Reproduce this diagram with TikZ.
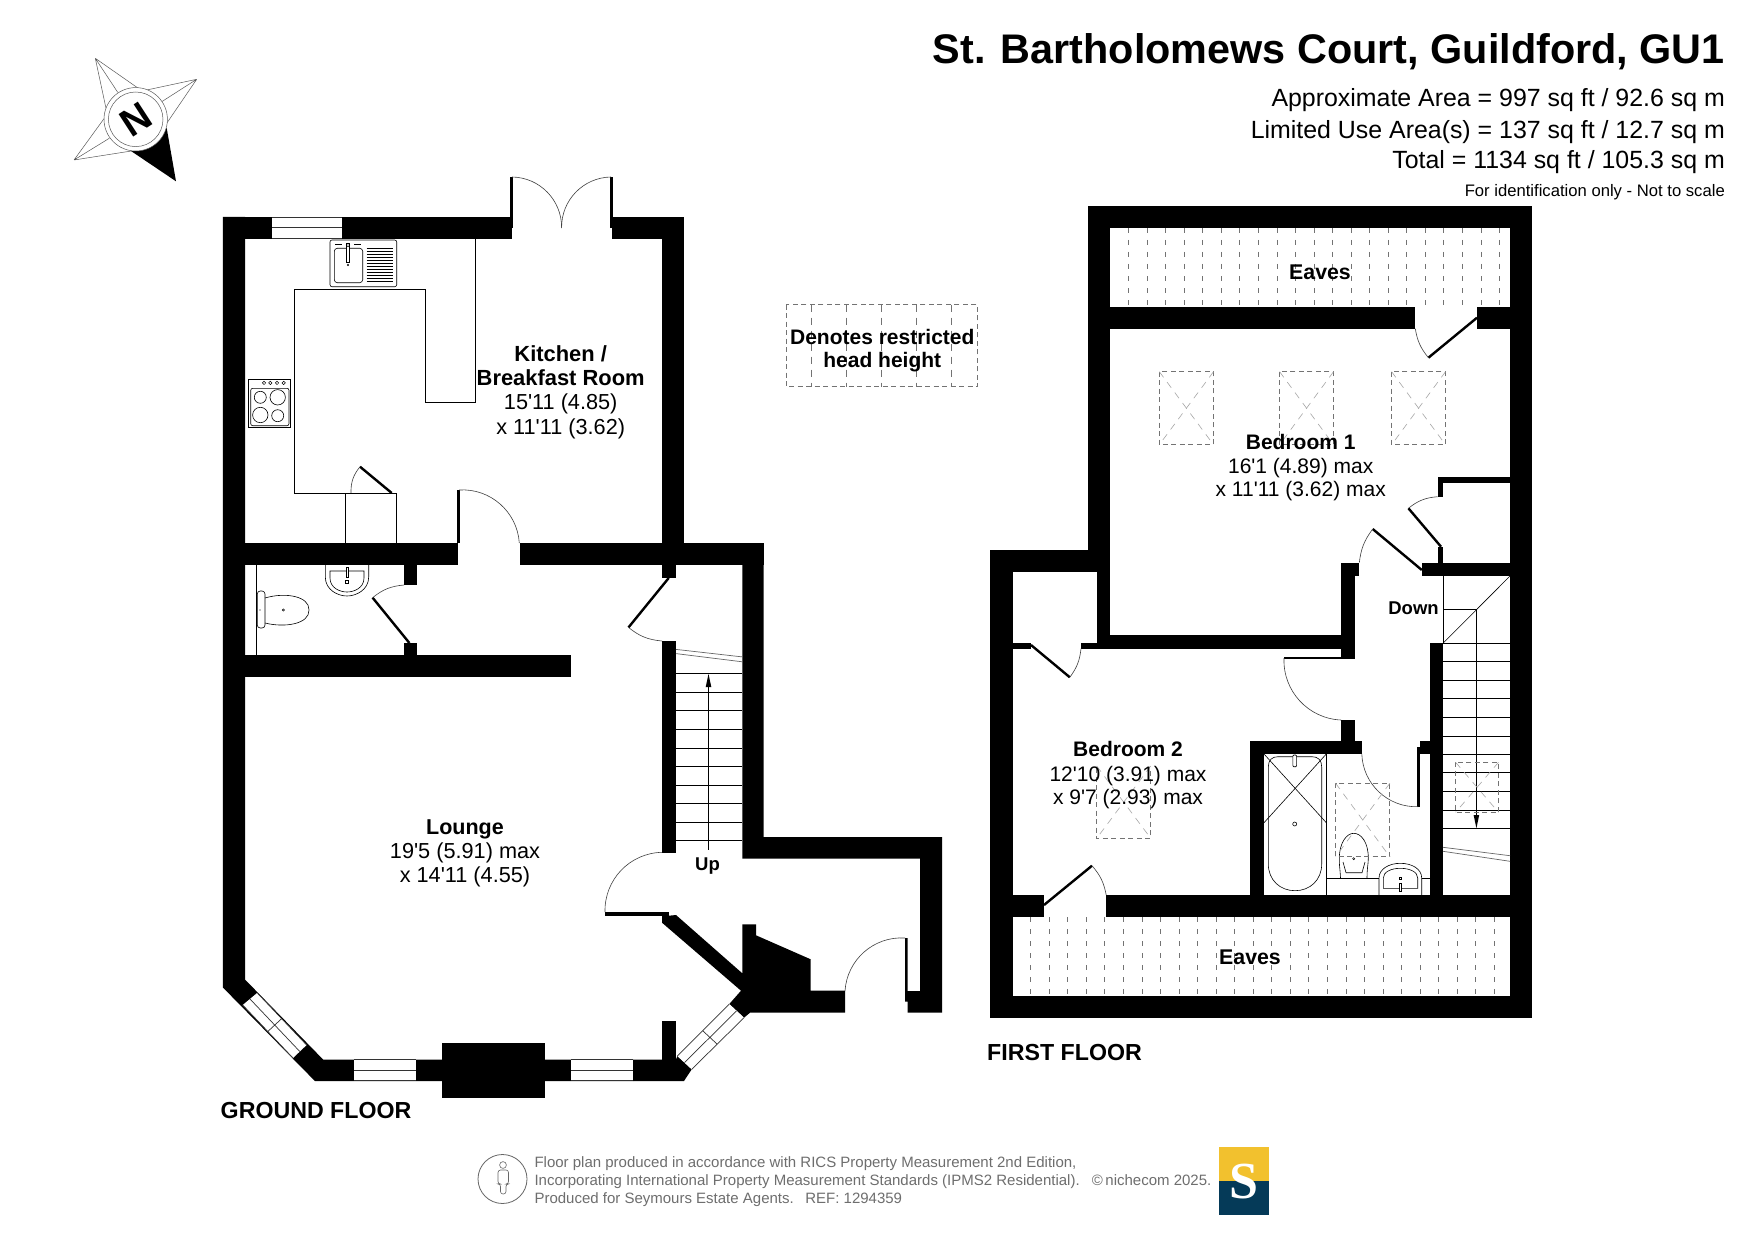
\documentclass[tikz,border=0pt]{standalone}
\usepackage{fontspec}
\setmainfont{Liberation Sans}
\newfontfamily\plainsans{Liberation Sans}
\definecolor{logoy}{HTML}{F2C12E}
\definecolor{logob}{HTML}{053A58}
\definecolor{foot}{HTML}{6E6E6E}
\newfontfamily\logofont{Liberation Serif}
\tikzset{
 wall/.style={fill=black,draw=none},
 leaf/.style={draw=black,line width=2.4pt},
 swing/.style={draw=black!75,line width=0.6pt},
 thin line/.style={draw=black,line width=0.8pt},
 winpane/.style={fill=white,draw=none},
 winline/.style={draw=black!80,line width=0.7pt},
 breakline/.style={draw=black!60,line width=0.7pt},
 eavesdash/.style={draw=black!55,line width=0.6pt,dash pattern=on 5pt off 7pt},
 skybox/.style={draw=black!55,line width=0.7pt,dash pattern=on 5pt off 3.5pt},
 skydiag/.style={draw=black!35,line width=0.6pt,dash pattern=on 7pt off 6pt},
 fixture/.style={draw=black,line width=0.6pt},
 room/.style={anchor=base,inner sep=0pt,yshift=-7.7pt,font=\plainsans\fontsize{21.7}{24}\selectfont},
 roomb/.style={room,font=\plainsans\fontsize{21.7}{24}\selectfont\bfseries},
 uproom/.style={room,font=\plainsans\fontsize{21}{24}\selectfont},
 uproomb/.style={room,font=\plainsans\fontsize{21}{24}\selectfont\bfseries},
 small/.style={anchor=base,inner sep=0pt,yshift=-6.5pt,font=\fontsize{18.5}{22}\selectfont\bfseries},
 floor/.style={anchor=base west,inner sep=0pt,yshift=-9.5pt,font=\fontsize{23.2}{26}\selectfont\bfseries},
 area/.style={anchor=base east,inner sep=0pt,yshift=-8.5pt,font=\fontsize{24.9}{28}\selectfont},
 foottext/.style={anchor=base west,inner sep=0pt,yshift=-6pt,text=foot,font=\fontsize{15}{18}\selectfont},
 star/.style={draw=black!65,line width=0.5pt},
}
\newcommand{\skylight}[4]{%
 \draw[skybox] (#1,#2) rectangle (#3,#4);
 \draw[skydiag] (#1,#2) -- (#3,#4);
 \draw[skydiag] (#3,#2) -- (#1,#4);}
\begin{document}
\begin{tikzpicture}[x=1pt,y=-1pt]
\useasboundingbox (0,0) rectangle (1755,1241);
\fill[white] (0,0) rectangle (1755,1241);
% --------------- compass
\fill[black] (176,181.3) -- (166.7,128) -- (131,151) -- cycle;
\draw[star] (95.3,58.3) -- (138.3,88.3) (95.3,58.3) -- (106,108.3) (95.3,58.3) -- (117.7,92.3);
\draw[star] (196.7,79.3) -- (146.7,90) (196.7,79.3) -- (166.7,123.3) (196.7,79.3) -- (161.7,101.7);
\draw[star] (74,160) -- (105,117.3) (74,160) -- (133.3,150.7) (74,160) -- (109.3,138.3);
\draw[star,fill=white] (135.7,119.3) circle (31.7);
\draw[star] (135.7,119.3) circle (27.3);
\node[inner sep=0pt,rotate=33,font=\fontsize{39}{39}\selectfont\bfseries] (northn) at (135.7,119.3) {N};
% --------------- ground floor walls
\fill[wall] (222.9,217) rectangle (512,238.7);
\fill[wall] (510,177) rectangle (513,228);
\fill[wall] (610,177) rectangle (613,228);
\fill[wall] (612,217) rectangle (683.7,238.7);
\fill[wall] (662,217) rectangle (683.7,565);
\fill[wall] (222.9,217) -- (245,217) -- (245,979.5) -- (323.1,1059.5) -- (633,1059.5) -- (633,1081) -- (314.9,1081) -- (222.9,987.5) -- cycle;
% middle walls
\fill[wall] (222.9,543) rectangle (458,564.6);
\fill[wall] (456.5,490) rectangle (459.5,543);
\fill[wall] (520,543) rectangle (763.7,564.6);
\fill[wall] (662,543) rectangle (676,578);
\fill[wall] (403.6,564) rectangle (416.7,585);
\fill[wall] (403.6,642.7) rectangle (416.7,656);
\fill[wall] (222.9,654.6) rectangle (570.8,676.8);
% stair walls
\fill[wall] (662,641) rectangle (676,852.5);
\fill[wall] (742.3,543) -- (763.7,543) -- (763.7,837) -- (942,837) -- (942,1012.7) -- (907.7,1012.7) -- (907.7,1001.7) -- (905,1001.7) -- (905,938) -- (907.7,938) -- (907.7,991) -- (920,991) -- (920,858.7) -- (742.3,858.7) -- cycle;
% entrance block and diagonal wall
\fill[wall] (662,916) -- (669,915.7) -- (676,915) -- (742.3,973.3) -- (742.3,924.3) -- (756,924.3) -- (756,935.3) -- (810.7,959.3) -- (810.7,990.7) -- (845,990.7) -- (845,1012.7) -- (750,1012.7) -- (744,1017.7) -- (729.3,1004) -- (741,990.7) -- (662,922.7) -- cycle;
\fill[wall] (605,912.3) rectangle (669,915.7);
% lower right corner
\fill[wall] (662,1020.7) rectangle (676,1060);
\fill[wall] (633,1059.5) -- (676,1059.5) -- (677.3,1056) -- (691.7,1069.3) -- (684,1081) -- (633,1081) -- cycle;
\fill[wall] (441.9,1042.7) rectangle (545,1098);
% --------------- ground floor windows
\fill[winpane] (272,217.5) rectangle (342,238);
\draw[winline] (272,217.5) -- (342,217.5) (272,227.5) -- (342,227.5) (272,238) -- (342,238);
\fill[winpane] (354,1059.5) rectangle (416,1080.5);
\draw[winline] (354,1059.5) -- (416,1059.5) (354,1070) -- (416,1070) (354,1080.5) -- (416,1080.5);
\fill[winpane] (570.8,1059.5) rectangle (633,1080.5);
\draw[winline] (570.8,1059.5) -- (633,1059.5) (570.8,1070) -- (633,1070) (570.8,1080.5) -- (633,1080.5);
\fill[winpane] (242.7,1005) -- (257.2,992.9) -- (306.6,1045) -- (293,1058) -- cycle;
\draw[winline] (242.7,1005) -- (293,1058) (257.2,992.9) -- (306.6,1045) (250,999) -- (299.8,1051.5) (267.8,1031.5) -- (281.8,1018.5);
\fill[winpane] (677.3,1056) -- (691.7,1069.3) -- (744,1017.7) -- (729.3,1004) -- cycle;
\draw[winline] (677.3,1056) -- (729.3,1004) (691.7,1069.3) -- (744,1017.7) (684.5,1062.6) -- (736.6,1010.8) (703,1031) -- (717,1044);
% --------------- ground floor doors
\draw[swing] (512,177) to[bend left=45] (561.6,228);
\draw[swing] (611,177) to[bend right=45] (561.6,228);
\draw[swing] (459,490) to[bend left=45] (519.3,543);
\draw[leaf] (391.7,493) -- (360,466.7);
\draw[swing] (360,466.7) to[bend right=20] (351,493);
\draw[leaf] (409.4,643) -- (372.6,597.7);
\draw[swing] (372.6,597.7) to[bend left=17] (404,585);
\draw[leaf] (668.7,578) -- (628.5,627.4);
\draw[swing] (628.5,627.4) to[bend right=17] (662,641);
\draw[swing] (605,912) to[bend left=45] (662,852.3);
\draw[swing] (845,991) to[bend left=45] (905,938);
% --------------- kitchen fittings
\draw[thin line] (475.3,238.7) -- (475.3,402.3) -- (425.3,402.3) -- (425.3,289.3) -- (294.7,289.3) -- (294.7,493) -- (396.7,493) -- (396.7,543);
\draw[thin line] (345.3,493) -- (345.3,543);
% sink
\draw[fixture,rounded corners=2pt] (330,240) rectangle (396.7,286.7);
\draw[fixture,rounded corners=3pt] (334.3,248.3) rectangle (362.7,282.7);
\draw[fixture,fill=white] (346.5,243) rectangle (349.5,262);
\fill (348,265) circle (1.2);
\foreach \yy in {248.5,251.5,254.5,257.5,260.5,263.5,266.5,269.5,272.5,275.5,278.5,281.5}
 \draw[line width=0.9pt] (366.7,\yy) -- (393.3,\yy);
\draw[line width=1pt] (335,245) -- (342,245) (354,245) -- (361,245);
\draw[fixture] (348,245) circle (1.8);
% hob
\draw[fixture] (248.3,379) rectangle (290.7,427.7);
\draw[fixture,rounded corners=2pt] (250.7,388.3) rectangle (289,425.7);
\draw[fixture] (260.3,397.3) circle (6) (277.7,397.3) circle (7.7) (260.3,415) circle (7.7) (277.7,415.7) circle (6);
\foreach \xx in {264,270.3,277,283.7} \draw[line width=0.5pt] (\xx,382.9) circle (1.7);
% --------------- WC
\draw[fixture] (256.7,565) -- (256.7,655);
\draw[fixture,rounded corners=3pt] (257.2,591) rectangle (265,628);
\draw[fixture] (265,598) .. controls (285,592) and (309.5,596) .. (309,610) .. controls (309.5,624) and (285,628) .. (265,623);
\draw[line width=0.5pt] (283.4,610) circle (1.1);
\fill (260,610) circle (0.6);
\draw[fixture] (325.3,564.6) -- (325.3,577) .. controls (325.3,590) and (338,596) .. (347,596) .. controls (356,596) and (368.7,590) .. (368.7,577) -- (368.7,564.6);
\draw[fixture] (330,571) -- (364,571) -- (364,578) .. controls (364,588) and (354,592) .. (347,592) .. controls (340,592) and (330,588) .. (330,578) -- cycle;
\draw[fixture,fill=white] (345.8,567) rectangle (348.2,577);
\draw[fixture] (345.5,580.5) rectangle (348.5,583.5);
% --------------- stairs up
\foreach \yy in {673.7,692,710.5,729.7,748,766.8,785.2,803.6,822,840.8}
 \draw[thin line] (676,\yy) -- (742.3,\yy);
\draw[thin line] (708.5,849.6) -- (708.5,686);
\fill (708.5,674) -- (711.3,687) -- (705.7,687) -- cycle;
\draw[breakline] (676,649.4) -- (742.3,656.9) (676,653.6) -- (742.3,661.8);
% --------------- first floor walls
\fill[wall] (1088.4,206) rectangle (1532,227.7);
\fill[wall] (1510,206) rectangle (1532,1017.7);
\fill[wall] (1088.4,206) rectangle (1110.2,550);
\fill[wall] (1097,550) rectangle (1110.2,648.7);
\fill[wall] (1110,307) rectangle (1415.3,328.7);
\fill[wall] (1477,307) rectangle (1510,328.7);
\fill[wall] (990,550) rectangle (1110,572);
\fill[wall] (990,550) rectangle (1013,1017.7);
\fill[wall] (1110,635) rectangle (1355.3,648.7);
\fill[wall] (1081,643.3) rectangle (1110,648.7);
\fill[wall] (1013,643.3) rectangle (1031,648.7);
\fill[wall] (1341,562.7) rectangle (1355.3,659);
\fill[wall] (1341,562.7) rectangle (1359.3,576);
\fill[wall] (1284,656.8) rectangle (1355.3,659.3);
\fill[wall] (1341,720) rectangle (1355.3,745);
\fill[wall] (1250.2,740.7) rectangle (1361.8,754);
\fill[wall] (1250.2,740.7) rectangle (1264,900);
\fill[wall] (1417.3,746.7) rectangle (1420.3,806.7);
\fill[wall] (1420.3,740.7) rectangle (1430,754);
\fill[wall] (1417.3,746.7) rectangle (1421,754);
\fill[wall] (1430,643.3) rectangle (1443,900);
\fill[wall] (1421.8,562.7) rectangle (1510,576);
\fill[wall] (1437.5,547.3) rectangle (1443,562.7);
\fill[wall] (1437.5,476.7) rectangle (1443,496.7);
\fill[wall] (1437.5,476.7) rectangle (1510,482.7);
\fill[wall] (990,895) rectangle (1044,917);
\fill[wall] (1106.2,895) rectangle (1510,917);
\fill[wall] (990,996) rectangle (1532,1017.7);
% --------------- eaves
\foreach \n in {0,...,20} \draw[eavesdash] ({1128.4+18.55*\n},228) -- ({1128.4+18.55*\n},307);
\foreach \n in {0,...,25} \draw[eavesdash] ({1030.5+18.55*\n},917) -- ({1030.5+18.55*\n},996);
% --------------- first floor doors
\draw[leaf] (1477,317.7) -- (1428.4,357.7);
\draw[swing] (1428.4,357.7) to[bend left=15] (1415.3,328.7);
\draw[leaf] (1031,645) -- (1069.8,677.3);
\draw[swing] (1069.8,677.3) to[bend right=15] (1081,648.7);
\draw[leaf] (1044,905) -- (1092,865.7);
\draw[swing] (1092,865.7) to[bend left=15] (1106.2,895);
\draw[leaf] (1421.8,570) -- (1372.7,529);
\draw[swing] (1372.7,529) to[bend right=15] (1359.3,562.7);
\draw[leaf] (1441,546.7) -- (1408.4,508.3);
\draw[swing] (1408.4,508.3) to[bend left=17] (1437.5,496.7);
\draw[swing] (1284,658) to[bend right=45] (1341,720);
\draw[swing] (1361.8,754) to[bend right=45] (1418.2,806.7);
% --------------- stairs down
\draw[thin line] (1443,576) -- (1443,643.3);
\draw[thin line] (1443,609.3) -- (1476.4,609.3);
\draw[fixture] (1510,576) -- (1443,643.3);
\foreach \yy in {643.3,661.7,680.3,698.7,717.3,736,754.3,772.7,791.3,810,828.3}
 \draw[thin line] (1443,\yy) -- (1510,\yy);
\draw[thin line] (1476.4,609.3) -- (1476.4,816);
\fill (1476.4,828.3) -- (1479.2,815) -- (1473.6,815) -- cycle;
\draw[breakline] (1443,847.3) -- (1510,855.7) (1443,851.3) -- (1510,861.3);
% --------------- bathroom
\draw[fixture] (1326.3,754) -- (1326.3,895);
\draw[fixture] (1268.3,767) .. controls (1268.3,760) and (1272,756.7) .. (1278,756.7) -- (1312,756.7) .. controls (1318,756.7) and (1321.7,760) .. (1321.7,767) -- (1321.7,864) .. controls (1321.7,880) and (1310,890.7) .. (1295,890.7) .. controls (1280,890.7) and (1268.3,880) .. (1268.3,864) -- cycle;
\draw[fixture] (1264,754) -- (1326.3,822.7) (1326.3,754) -- (1264,822.7);
\draw[fixture,fill=white,rounded corners=1pt] (1292.8,755) rectangle (1296.6,766.7);
\draw[fixture] (1294.7,824) circle (2);
\draw[fixture] (1326.3,878.3) -- (1379,878.3) (1421.7,878.3) -- (1430,878.3);
\draw[fixture] (1379,895) -- (1379,878) .. controls (1379,869) and (1389,863.3) .. (1400.3,863.3) .. controls (1412,863.3) and (1421.7,869) .. (1421.7,878) -- (1421.7,895);
\draw[fixture] (1383.3,888.3) -- (1383.3,878) .. controls (1383.3,872) and (1391,868.3) .. (1400.3,868.3) .. controls (1410,868.3) and (1417.7,872) .. (1417.7,878) -- (1417.7,888.3) -- cycle;
\draw[fixture,fill=white] (1399,883) rectangle (1401.6,891.7);
\draw[fixture] (1399,877) rectangle (1401.6,879.6);
\draw[fixture] (1340.5,878) .. controls (1340,868) and (1339,864) .. (1339.3,858) .. controls (1339.5,842) and (1347,833.3) .. (1353.7,833.3) .. controls (1361,833.3) and (1368.3,842) .. (1368.3,858) .. controls (1368.3,864) and (1367,868) .. (1367,878);
\draw[fixture] (1343,862) -- (1346,872.7) -- (1362,872.7) -- (1365,862);
\draw[line width=0.5pt] (1353.7,858.7) circle (1.1);
% --------------- skylights
\skylight{1159.3}{371.7}{1213.5}{444.7}
\skylight{1279.6}{371.7}{1333.5}{444.7}
\skylight{1391.6}{371.7}{1445.5}{444.7}
\skylight{1335.6}{783.3}{1389.8}{856.7}
\skylight{1455.6}{762.3}{1498.5}{812.3}
\draw[skybox] (1096.7,768) -- (1096.7,838.3) -- (1150.7,838.3) -- (1150.7,768);
\draw[skydiag] (1096.7,766) -- (1150.7,838.3) (1150.7,766) -- (1096.7,838.3);
% --------------- legend box
\draw[skybox] (786,304.7) rectangle (977.7,386.7);
\foreach \xx in {811.7,846.7,881.7,916.7,951.7} \draw[skybox,dash pattern=on 7pt off 6pt] (\xx,304.7) -- (\xx,386.7);
% --------------- texts
\node[anchor=base east,inner sep=0pt,yshift=-14.5pt,font=\fontsize{41.37}{46}\selectfont\bfseries] (title) at (1725,49) {St. Bartholomews Court, Guildford, GU1};
\node[area] (area1) at (1725,98.5) {Approximate Area = 997 sq ft / 92.6 sq m};
\node[area] (area2) at (1725,130) {Limited Use Area(s) = 137 sq ft / 12.7 sq m};
\node[area] (area3) at (1725,160) {Total = 1134 sq ft / 105.3 sq m};
\node[anchor=base east,inner sep=0pt,yshift=-5.5pt,font=\fontsize{16.65}{18}\selectfont] (area4) at (1725,191.4) {For identification only - Not to scale};
\node[roomb,font=\plainsans\fontsize{21.9}{24}\selectfont\bfseries] (k1) at (560.7,353.3) {Kitchen /};
\node[roomb,font=\plainsans\fontsize{21.9}{24}\selectfont\bfseries] (k2) at (560.7,377.8) {Breakfast Room};
\node[room] (k3) at (560.7,401.7) {15'11 (4.85)};
\node[room] (k4) at (560.7,426.7) {x 11'11 (3.62)};
\node[roomb,font=\plainsans\fontsize{21.5}{24}\selectfont\bfseries] (l1) at (465,826.6) {Lounge};
\node[room] (l2) at (465,850.3) {19'5 (5.91) max};
\node[room] (l3) at (465,874.5) {x 14'11 (4.55)};
\node[small] (up) at (707.5,863.8) {Up};
\node[uproomb] (d1) at (882.3,337.2) {Denotes restricted};
\node[uproomb] (d2) at (882.3,360) {head height};
\node[roomb,font=\plainsans\fontsize{21.3}{24}\selectfont\bfseries] (e1) at (1320,271.7) {Eaves};
\node[roomb,font=\plainsans\fontsize{21.3}{24}\selectfont\bfseries] (e2) at (1250,957) {Eaves};
\node[uproomb] (b1a) at (1300.7,441.7) {Bedroom 1};
\node[uproom] (b1b) at (1300.7,466) {16'1 (4.89) max};
\node[uproom] (b1c) at (1300.7,489) {x 11'11 (3.62) max};
\node[uproomb] (b2a) at (1128,749) {Bedroom 2};
\node[uproom] (b2b) at (1128,773.3) {12'10 (3.91) max};
\node[uproom] (b2c) at (1128,796.7) {x 9'7 (2.93) max};
\node[small] (down) at (1413.5,607.7) {Down};
\node[floor] (gf) at (220.5,1109) {GROUND FLOOR};
\node[floor] (ff) at (987,1051) {FIRST FLOOR};
% --------------- footer
\draw[draw=black!60,line width=0.8pt] (502.5,1179) circle (24.5);
\draw[draw=black!60,line width=0.6pt] (503,1165) circle (3.4);
\draw[draw=black!60,line width=0.6pt,rounded corners=2.5pt] (498,1170) -- (508.5,1170) -- (508.5,1184) -- (506,1184) -- (506,1194) -- (500.5,1194) -- (500.5,1184) -- (498,1184) -- cycle;
\node[foottext] (f1) at (534.3,1161) {Floor plan produced in accordance with RICS Property Measurement 2nd Edition,};
\node[foottext] (f2) at (534.3,1179.3) {Incorporating International Property Measurement Standards (IPMS2 Residential).};
\node[foottext] (f3) at (534.3,1197.3) {Produced for Seymours Estate Agents.\hspace{6pt} REF: 1294359};
\node[foottext] (f4) at (1091.7,1179) {\textcopyright\,nichecom 2025.};
\fill[logoy] (1219,1147.3) rectangle (1269.3,1181.3);
\fill[logob] (1219,1181.3) rectangle (1269.3,1215);
\node[inner sep=0pt,text=white,font=\logofont\fontsize{52}{52}\selectfont\bfseries] (logos) at (1243.5,1181.3) {S};
\end{tikzpicture}
\end{document}
